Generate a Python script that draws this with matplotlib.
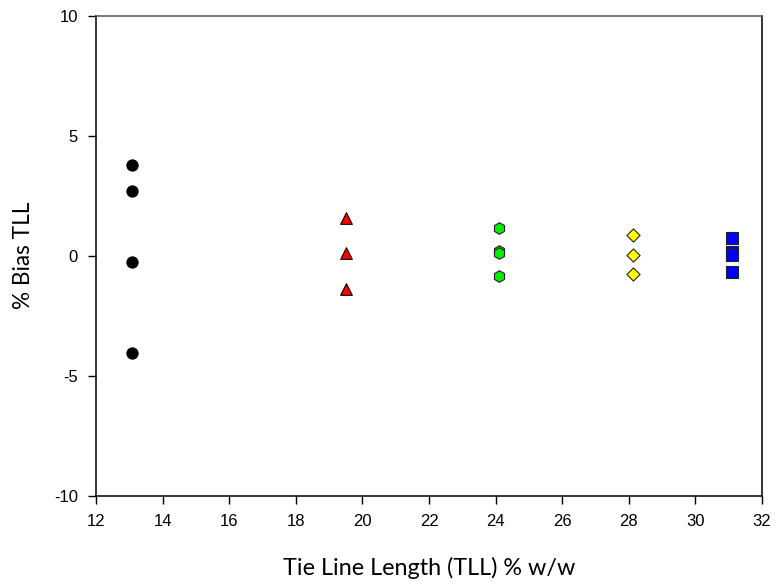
import matplotlib
matplotlib.use("Agg")
import matplotlib.pyplot as plt

plt.rcParams['axes.unicode_minus'] = False

# Data
circle_x = [13.07, 13.07, 13.07, 13.07]
circle_y = [3.78, 2.71, -0.25, -4.07]
tri_x = [19.52, 19.52, 19.52]
tri_y = [1.58, 0.10, -1.39]
hex_x = [24.11, 24.11, 24.11, 24.11]
hex_y = [1.14, 0.20, 0.10, -0.83]
dia_x = [28.12, 28.12, 28.12]
dia_y = [0.86, 0.03, -0.76]
sq_x = [31.11, 31.11, 31.11, 31.11]
sq_y = [0.75, 0.14, 0.03, -0.69]

xticks = [12, 14, 16, 18, 20, 22, 24, 26, 28, 30, 32]
yticks = [-10, -5, 0, 5, 10]

fig = plt.figure(figsize=(7.76, 5.85), dpi=100)
ax = fig.add_axes([0.1237, 0.1527, 0.8583, 0.8204])

ax.scatter(circle_x, circle_y, marker='o', s=65, color='black', edgecolors='black', linewidths=0.8, zorder=3)
ax.scatter(tri_x, tri_y, marker='^', s=70, color='red', edgecolors='black', linewidths=0.8, zorder=3)
ax.scatter(hex_x, hex_y, marker='h', s=70, color='#00ee00', edgecolors='#222222', linewidths=0.8, zorder=3)
ax.scatter(dia_x, dia_y, marker='D', s=45, color='yellow', edgecolors='#222222', linewidths=0.8, zorder=3)
ax.scatter(sq_x, sq_y, marker='s', s=65, color='blue', edgecolors='#222222', linewidths=0.8, zorder=3)

ax.set_xlim(12, 32)
ax.set_ylim(-10, 10)
ax.set_xticks(xticks)
ax.set_yticks(yticks)
ax.tick_params(direction='out', length=6, width=1, labelsize=12, pad=7)
for lab in ax.get_xticklabels() + ax.get_yticklabels():
    lab.set_fontfamily('Liberation Sans')
for sp in ax.spines.values():
    sp.set_linewidth(1.1)
ax.spines['top'].set_color('#555555')
ax.spines['right'].set_color('black')

ax.set_xlabel('Tie Line Length (TLL) % w/w', fontsize=16.8, fontfamily='Lato', labelpad=20)
ax.set_ylabel('% Bias TLL', fontsize=16.3, fontfamily='Lato', labelpad=14)

fig.savefig('out.png', dpi=100)
